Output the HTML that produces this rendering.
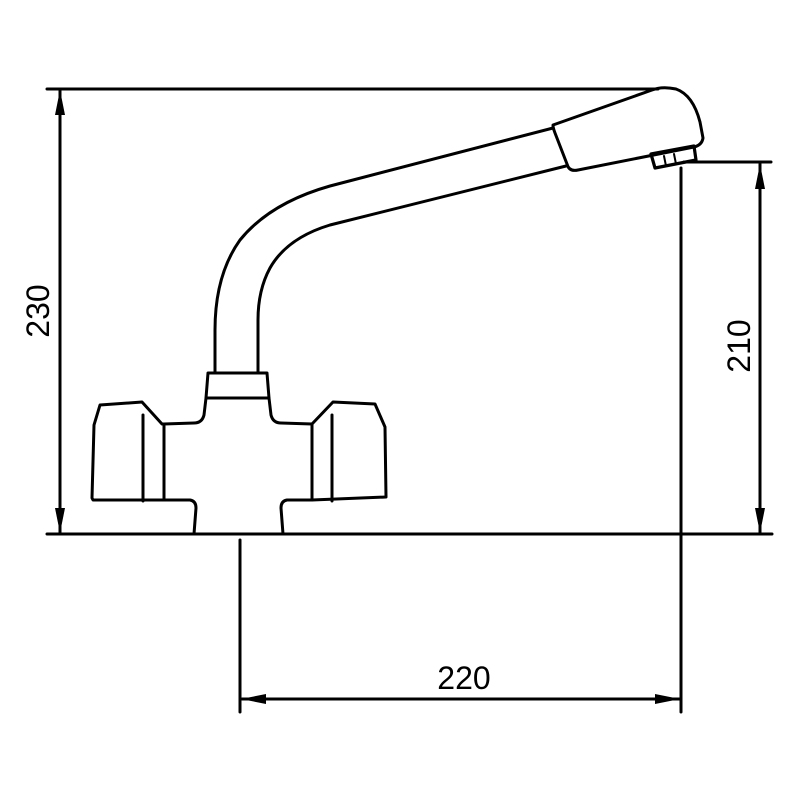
<!DOCTYPE html>
<html><head><style>
html,body{margin:0;padding:0;background:#fff;}
svg{display:block;}
text{font-family:"Liberation Sans",sans-serif;font-size:32px;fill:#000;}
</style></head><body>
<svg width="800" height="800" viewBox="0 0 800 800" xmlns="http://www.w3.org/2000/svg">
<g fill="none" stroke="#000" stroke-width="3" stroke-linejoin="round" stroke-linecap="round">
<path d="M47 89 H658"/>
<path d="M47 534 H772"/>
<path d="M60 90 V533"/>
<path d="M684 162 H771"/>
<path d="M760 164 V533"/>
<path d="M681 168 V712"/>
<path d="M240 540 V712"/>
<path d="M242 699 H680"/>
<path d="M553 125 L652 90 Q662 86 676 89 Q693 95 700 122 L703 138 Q702 145 694 147 L578 170 Q569 172 567 164 L555 133 Q553 128 553 125 Z"/>
<path d="M651 154 L694 146 L696 160 L655 168 Z" stroke-width="3.2"/>
<path d="M664 156 L666 166 M674 154 L676 164" stroke-width="2"/>
<path d="M553 128 L330 186 Q270 203 240 240 Q215 275 215 330 V373"/>
<path d="M566 166 L330 225 Q287 238 270 268 Q258 290 258 320 V373"/>
<path d="M208 373 H267 L269 398 H206 Z"/>
<path d="M206 398 L204 415 Q202 423 194 423 L164 424 V500 H190 Q196 501 196 508 L194 534"/>
<path d="M269 398 L271 415 Q273 423 281 423 L312 424 V500 H287 Q281 501 281 508 L283 534"/>
<path d="M164 424 L162 424 L142 402 L100 405 L94 425 L92 498 L93 500 H164"/>
<path d="M143 415 V501"/>
<path d="M312 424 L333 402 L375 404 L385 427 L386 497 L312 500"/>
<path d="M332 415 V501"/>
</g>
<g fill="#000" stroke="none">
<polygon points="60,90 55,115 65,115"/>
<polygon points="60,533 55,508 65,508"/>
<polygon points="760,164 755,189 765,189"/>
<polygon points="760,533 755,508 765,508"/>
<polygon points="241,699 266,694 266,704"/>
<polygon points="680,699 655,694 655,704"/>
</g>
<text x="464" y="689" text-anchor="middle">220</text>
<text transform="translate(49,311) rotate(-90)" text-anchor="middle">230</text>
<text transform="translate(750,346) rotate(-90)" text-anchor="middle">210</text>
</svg>
</body></html>
